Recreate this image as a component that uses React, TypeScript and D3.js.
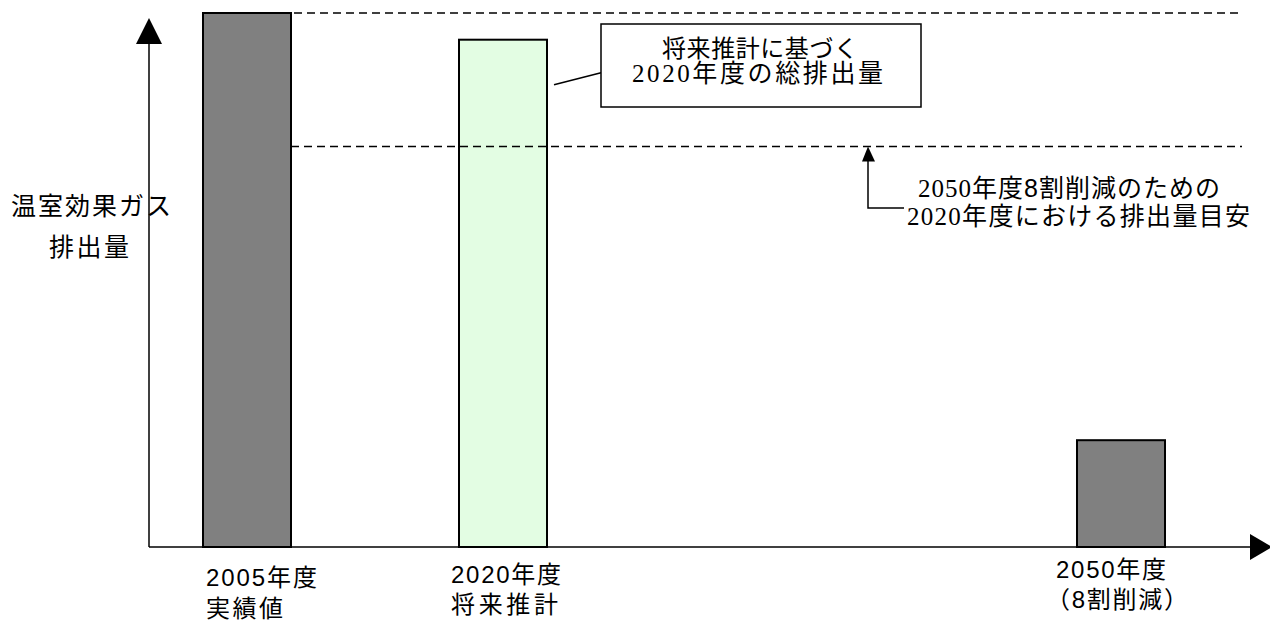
import React from "react";
import * as d3 from "d3";

const categories = ["2005年度", "2020年度", "2050年度"];
const years = [2005, 2020, 2050];
const values = [100, 95, 20];
const subLabels = ["実績値", "将来推計", "（8割削減）"];
const fills = ["#808080", "#e3fde3", "#808080"];
const targetValue = 75;

const W = 1270, H = 621;
const BASE_Y = 547;

export default function App() {
  const y = d3.scaleLinear().domain([0, 100]).range([BASE_Y, 13]);
  const x = d3.scaleLinear().domain(years).range([247, 503, 1121]);
  const bw = 88;
  const sans = "Liberation Sans, Noto Sans CJK JP, sans-serif";
  const serif = "Liberation Serif, Noto Sans CJK JP, serif";
  const labelPos = [
    { x: 206, y1: 586, y2: 617, l1: 111, l2: 77 },
    { x: 451, y1: 583, y2: 613, l1: 110, l2: 107 },
    { x: 1056, y1: 578, y2: 608, l1: 110, l2: 142, x2: 1046 },
  ];
  const y2020 = y(values[1]);
  const yTarget = y(targetValue);
  return (
    <svg width={W} height={H} style={{ position: "absolute", left: 0, top: 0, background: "#fff" }}>
      {/* axes */}
      <line x1={149} y1={40} x2={149} y2={BASE_Y} stroke="#000" strokeWidth={1.5} />
      <path d="M149,18 L136,44 L162,44 Z" fill="#000" />
      <line x1={149} y1={BASE_Y} x2={1252} y2={BASE_Y} stroke="#000" strokeWidth={1.5} />
      <path d="M1272,547 L1250,534 L1250,560 Z" fill="#000" />

      {/* bars */}
      {values.map((v, i) => (
        <rect key={i} x={x(years[i]) - bw / 2} y={y(v)} width={bw} height={BASE_Y - y(v)}
          fill={fills[i]} stroke="#000" strokeWidth={2} />
      ))}

      {/* dashed reference lines */}
      <line x1={x(years[0]) - bw / 2} y1={y(values[0])} x2={1242} y2={y(values[0])}
        stroke="#000" strokeWidth={1.5} strokeDasharray="8,5" />
      <line x1={x(years[0]) + bw / 2} y1={yTarget} x2={1242} y2={yTarget}
        stroke="#000" strokeWidth={1.5} strokeDasharray="8,5" />

      {/* callout box */}
      <line x1={x(years[1]) + bw / 2 + 7} y1={y2020 + 45} x2={601} y2={y2020 + 33} stroke="#000" strokeWidth={1.5} />
      <rect x={601} y={24} width={320} height={83} fill="#fff" stroke="#000" strokeWidth={1.5} />
      <text x={662} y={57} fontSize={24} fontFamily={sans} textLength={196} lengthAdjust="spacing">将来推計に基づく</text>
      <text x={632} y={82} fontSize={25} fontFamily={serif} textLength={251} lengthAdjust="spacing">2020年度の総排出量</text>

      {/* target annotation */}
      <path d={`M868,${yTarget} L862,${yTarget + 15} L875,${yTarget + 15} Z`} fill="#000" />
      <polyline points={`868,${yTarget + 12} 868,208 904,208`} fill="none" stroke="#000" strokeWidth={1.5} />
      <text x={918} y={197} fontSize={25} fontFamily={serif} textLength={302} lengthAdjust="spacing">
        2050年度<tspan fontFamily={sans}>8</tspan>割削減のための
      </text>
      <text x={907} y={225} fontSize={25} fontFamily={serif} textLength={343} lengthAdjust="spacing">2020年度における排出量目安</text>

      {/* y label */}
      <text x={11} y={215} fontSize={25} fontFamily={sans} textLength={160} lengthAdjust="spacing">温室効果ガス</text>
      <text x={49} y={256} fontSize={25} fontFamily={sans} textLength={80} lengthAdjust="spacing">排出量</text>

      {/* category labels */}
      {categories.map((c, i) => (
        <g key={c}>
          <text x={labelPos[i].x} y={labelPos[i].y1} fontSize={24} fontFamily={sans}
            textLength={labelPos[i].l1} lengthAdjust="spacing">{c}</text>
          <text x={labelPos[i].x2 ?? labelPos[i].x} y={labelPos[i].y2} fontSize={24} fontFamily={sans}
            textLength={labelPos[i].l2} lengthAdjust="spacing">{subLabels[i]}</text>
        </g>
      ))}
    </svg>
  );
}
